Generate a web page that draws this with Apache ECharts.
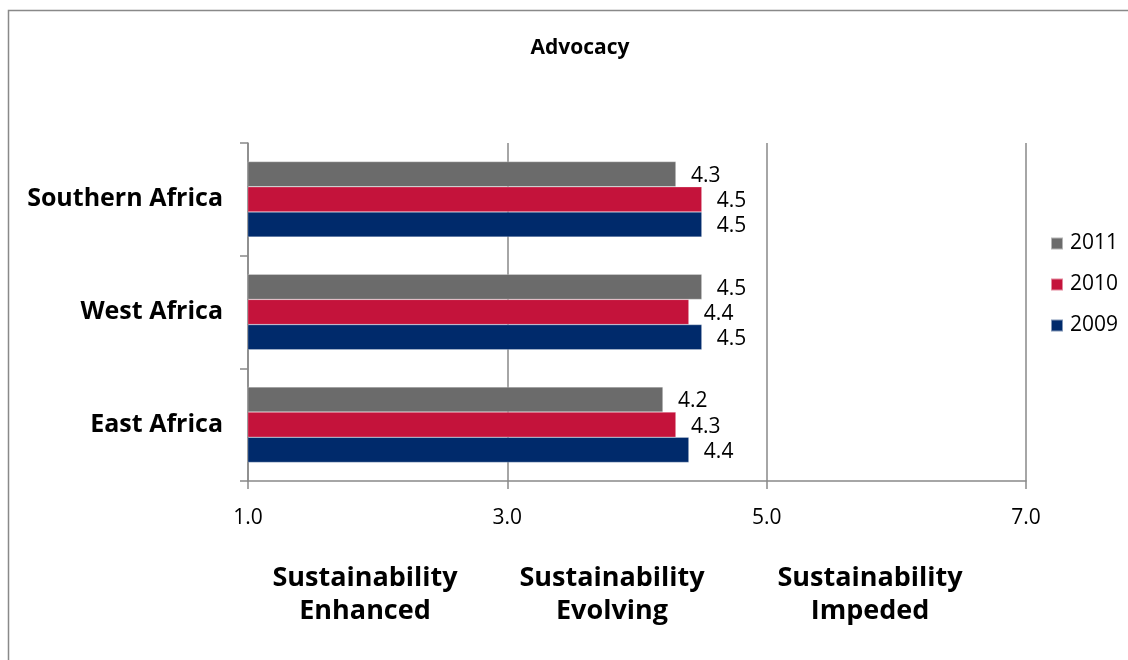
<!DOCTYPE html>
<html>
<head>
<meta charset="utf-8">
<script src="https://cdn.jsdelivr.net/npm/echarts@6/dist/echarts.min.js"></script>
<style>
  html, body { margin: 0; padding: 0; background: #fff; }
  #chart { width: 1128px; height: 660px; }
</style>
</head>
<body>
<div id="chart"></div>
<script>
// Regions, listed bottom to top along the category axis
const regions = ['East Africa', 'West Africa', 'Southern Africa'];
const years = ['2011', '2010', '2009'];
const scores2011 = [4.2, 4.5, 4.3];
const scores2010 = [4.3, 4.4, 4.5];
const scores2009 = [4.4, 4.5, 4.5];
const scaleTicks = [1, 3, 5, 7];
const zoneLabels = [
  'Sustainability\nEnhanced',
  'Sustainability\nEvolving',
  'Sustainability\nImpeded'
];

const FONT = '"Open Sans", Lato, sans-serif';
const AXIS_GREY = '#898989';
const colors = { '2011': '#6b6b6b', '2010': '#c4133b', '2009': '#002a6b' };
const seriesValues = { '2011': scores2011, '2010': scores2010, '2009': scores2009 };

const chart = echarts.init(document.getElementById('chart'), null, { renderer: 'canvas' });

const series = years.map(y => ({
  name: y,
  type: 'bar',
  data: seriesValues[y],
  barGap: '0%',
  barCategoryGap: '33%',
  itemStyle: { color: colors[y], borderColor: 'rgba(255,255,255,0.5)', borderWidth: 0.5 },
  label: {
    show: true,
    position: 'right',
    distance: 15,
    offset: [0, 2],
    color: '#000',
    fontFamily: FONT,
    fontSize: 21,
    formatter: p => p.value.toFixed(1)
  }
}));

const zoneCentres = [365, 612, 870];

chart.setOption({
  animation: false,
  backgroundColor: '#fff',
  title: {
    text: 'Advocacy',
    left: 575,
    textAlign: 'center',
    top: 33,
    textStyle: { fontFamily: FONT, fontSize: 21, fontWeight: 'bold', color: '#000' }
  },
  legend: {
    orient: 'vertical',
    left: 1045,
    top: 228,
    itemWidth: 12,
    itemHeight: 12,
    itemGap: 20,
    icon: 'rect',
    data: years,
    textStyle: { fontFamily: FONT, fontSize: 21, color: '#000', padding: [0, 0, 0, 2] }
  },
  grid: { left: 248, top: 143, right: 102, bottom: 179, containLabel: false },
  xAxis: {
    type: 'value',
    min: scaleTicks[0],
    max: scaleTicks[scaleTicks.length - 1],
    interval: 2,
    axisLine: { show: true, lineStyle: { color: AXIS_GREY, width: 1.5 } },
    axisTick: { show: true, length: 8, lineStyle: { color: AXIS_GREY, width: 1.5 } },
    splitLine: { show: true, lineStyle: { color: AXIS_GREY, width: 1.5 } },
    axisLabel: {
      margin: 27,
      color: '#000',
      fontFamily: FONT,
      fontSize: 21,
      formatter: v => v.toFixed(1)
    }
  },
  yAxis: {
    type: 'category',
    data: regions,
    axisLine: { show: true, lineStyle: { color: AXIS_GREY, width: 1.5 } },
    axisTick: { show: true, length: 8, lineStyle: { color: AXIS_GREY, width: 1.5 } },
    axisLabel: {
      margin: 25,
      color: '#000',
      fontFamily: FONT,
      fontSize: 25,
      fontWeight: 'bold',
      padding: [2, 0, 0, 0]
    }
  },
  graphic: [
    {
      type: 'rect',
      shape: { x: 8.5, y: 10.5, width: 1200, height: 700 },
      style: { fill: null, stroke: AXIS_GREY, lineWidth: 1.5 },
      silent: true,
      z: -1
    }
  ].concat(zoneLabels.map((t, i) => ({
    type: 'text',
    x: zoneCentres[i],
    y: 562,
    style: {
      text: t,
      textAlign: 'center',
      textVerticalAlign: 'top',
      fill: '#000',
      font: 'bold 27px ' + FONT,
      lineHeight: 33
    }
  }))),
  series: series
});
</script>
</body>
</html>
